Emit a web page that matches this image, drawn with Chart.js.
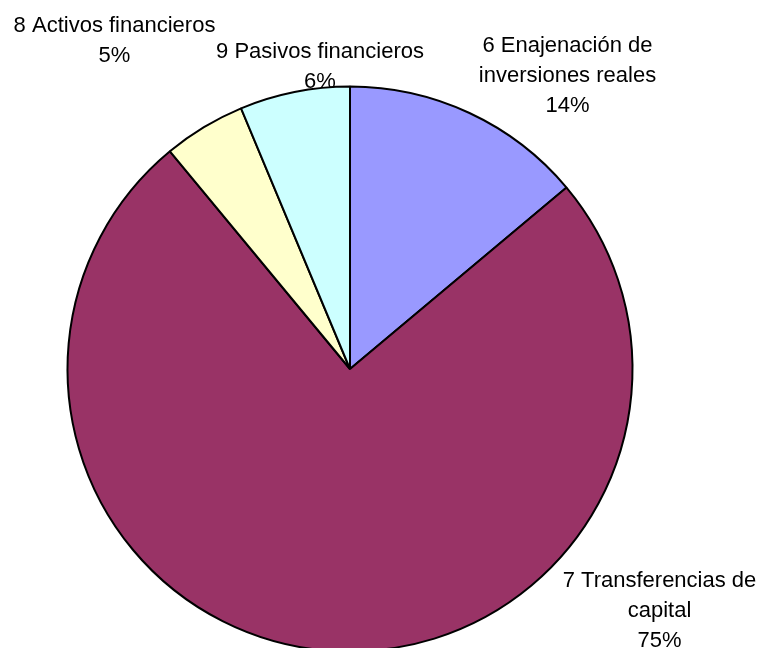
<!DOCTYPE html>
<html>
<head>
<meta charset="utf-8">
<script src="https://cdn.jsdelivr.net/npm/chart.js@4.4.1/dist/chart.umd.min.js"></script>
<style>
html,body{margin:0;padding:0;background:#fff;overflow:hidden;}
#wrap{width:762px;height:700px;position:relative;}
</style>
</head>
<body>
<div id="wrap"><canvas id="c"></canvas></div>
<script>
const categories = ["6 Enajenación de inversiones reales", "7 Transferencias de capital", "8 Activos financieros", "9 Pasivos financieros"];
const values = [13.9, 75.1, 4.7, 6.3];
const percentLabels = ["14%", "75%", "5%", "6%"];
const labelLines = [
  ["6 Enajenación de", "inversiones reales"],
  ["7 Transferencias de", "capital"],
  ["8 Activos financieros"],
  ["9 Pasivos financieros"]
];
const colors = ["#9999FF", "#993366", "#FFFFCC", "#CCFFFF"];

// label block anchor (center x, first baseline) as offsets from the pie center, in px
const labelOffsets = [[217.5, -317], [309.5, 218], [-235.5, -337], [-30, -311]];

const labelPlugin = {
  id: 'pieLabels',
  afterDatasetsDraw(chart) {
    const ctx = chart.ctx;
    const arcs = chart.getDatasetMeta(0).data;
    ctx.save();
    ctx.font = '22px "Liberation Sans", Arial, sans-serif';
    ctx.fillStyle = '#000';
    ctx.textAlign = 'center';
    ctx.textBaseline = 'alphabetic';
    arcs.forEach((arc, i) => {
      const lines = labelLines[i].concat([percentLabels[i]]);
      const x = arc.x + labelOffsets[i][0];
      let y = arc.y + labelOffsets[i][1];
      lines.forEach(l => { ctx.fillText(l, x, y); y += 30; });
    });
    ctx.restore();
  }
};

new Chart(document.getElementById('c'), {
  type: 'pie',
  data: {
    labels: categories,
    datasets: [{
      data: values,
      backgroundColor: colors,
      borderColor: '#000',
      borderWidth: 2,
      clip: false
    }]
  },
  options: {
    responsive: true,
    maintainAspectRatio: false,
    animation: false,
    layout: { padding: { left: 66.5, top: 85.5, right: 128.5, bottom: 47.5 } },
    plugins: { legend: { display: false }, tooltip: { enabled: false } }
  },
  plugins: [labelPlugin]
});
</script>
</body>
</html>
